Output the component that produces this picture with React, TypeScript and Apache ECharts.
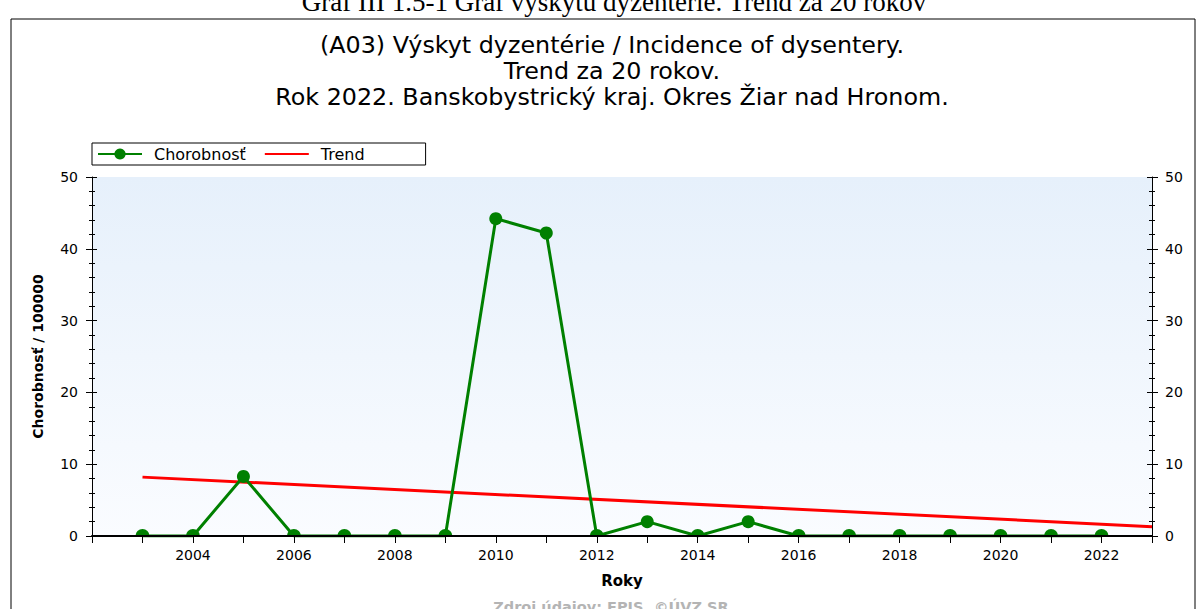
import React, { useEffect, useRef } from 'react';
import * as echarts from 'echarts';

const years = [2003, 2004, 2005, 2006, 2007, 2008, 2009, 2010, 2011, 2012, 2013, 2014, 2015, 2016, 2017, 2018, 2019, 2020, 2021, 2022];
const incidence = [0, 0, 8.3, 0, 0, 0, 0, 44.2, 42.2, 0, 2.0, 0, 2.0, 0, 0, 0, 0, 0, 0, 0];
const trendYears = [2003, 2023];
const trendValues = [8.2, 1.3];
const xMin = 2002;
const xMax = 2023;
const yMin = 0;
const yMax = 50;
const yInterval = 10;
const seriesNames = ['Chorobnosť', 'Trend'];
const captionText = 'Graf III 1.5-1 Graf výskytu dyzentérie. Trend za 20 rokov';
const titleLines = [
  '(A03) Výskyt dyzentérie / Incidence of dysentery.',
  'Trend za 20 rokov.',
  'Rok 2022. Banskobystrický kraj. Okres Žiar nad Hronom.',
];
const xAxisName = 'Roky';
const yAxisName = 'Chorobnosť / 100000';
const sourceText = 'Zdroj údajov: EPIS, ©ÚVZ SR';

const FONT = '"DejaVu Sans", Verdana, sans-serif';
const HALF = 'path://M0 10 A10 10 0 0 1 20 10 Z';

export default function App() {
  const ref = useRef<HTMLDivElement>(null);
  useEffect(() => {
    if (!ref.current) return;
    const chart = echarts.init(ref.current, null, { renderer: 'svg' });
    const yBase = {
      type: 'value',
      min: yMin,
      max: yMax,
      interval: yInterval,
      splitLine: { show: false },
      minorSplitLine: { show: false },
    };
    const option = {
      animation: false,
      backgroundColor: '#ffffff',
      textStyle: { fontFamily: FONT },
      grid: {
        left: 92,
        right: 51,
        top: 177,
        bottom: 73,
        show: true,
        borderWidth: 0,
        backgroundColor: new echarts.graphic.LinearGradient(0, 0, 0, 1, [
          { offset: 0, color: '#e6f0fb' },
          { offset: 1, color: '#fafcff' },
        ]),
      },
      legend: {
        data: [
          { name: seriesNames[0] },
          { name: seriesNames[1], itemStyle: { opacity: 0 } },
        ],
        left: 92,
        top: 143,
        orient: 'horizontal',
        borderColor: '#000',
        borderWidth: 1,
        borderRadius: 0,
        backgroundColor: '#ffffff',
        padding: [3, 61, 3, 5],
        itemWidth: 44,
        itemHeight: 14,
        itemGap: 18,
        textStyle: { fontSize: 16, color: '#000', fontFamily: FONT, padding: [0, 0, 0, 7] },
      },
      xAxis: [
        {
          type: 'value',
          min: xMin,
          max: xMax,
          interval: 1,
          position: 'bottom',
          z: 10,
          name: xAxisName,
          nameLocation: 'middle',
          nameGap: 37,
          nameTextStyle: { fontSize: 15, fontWeight: 'bold', color: '#000', fontFamily: FONT },
          axisLine: { show: true, lineStyle: { color: '#000', width: 2 } },
          axisTick: { show: true, length: 7, lineStyle: { color: '#000', width: 1 } },
          axisLabel: {
            color: '#000',
            fontSize: 14,
            margin: 12,
            fontFamily: FONT,
            formatter: (v: number) => (v % 2 === 0 && v > xMin ? String(v) : ''),
          },
          splitLine: { show: false },
        },
        {
          type: 'value',
          min: xMin,
          max: xMax,
          interval: 1,
          position: 'top',
          axisLine: { show: true, lineStyle: { color: '#000', width: 1 } },
          axisTick: { show: true, inside: true, length: 4, lineStyle: { color: '#000' } },
          axisLabel: { show: false },
          splitLine: { show: false },
        },
      ],
      yAxis: [
        {
          ...yBase,
          position: 'left',
          name: yAxisName,
          nameLocation: 'middle',
          nameGap: 47,
          nameTextStyle: { fontSize: 14, fontWeight: 'bold', color: '#000', fontFamily: FONT },
          axisLine: { show: true, lineStyle: { color: '#000', width: 1 } },
          axisTick: { show: true, length: 6, lineStyle: { color: '#000' } },
          minorTick: { show: true, splitNumber: 5, length: 3, lineStyle: { color: '#000' } },
          axisLabel: { color: '#000', fontSize: 14, margin: 14, fontFamily: FONT },
        },
        {
          ...yBase,
          position: 'right',
          axisLine: { show: true, lineStyle: { color: '#000', width: 1 } },
          axisTick: { show: true, length: 6, lineStyle: { color: '#000' } },
          minorTick: { show: true, splitNumber: 5, length: 3, lineStyle: { color: '#000' } },
          axisLabel: { color: '#000', fontSize: 14, margin: 13, fontFamily: FONT },
        },
        {
          ...yBase,
          position: 'left',
          axisLine: { show: false },
          axisTick: { show: true, inside: true, length: 5, lineStyle: { color: '#000' } },
          minorTick: { show: true, splitNumber: 5, length: 3, lineStyle: { color: '#000' } },
          axisLabel: { show: false },
        },
        {
          ...yBase,
          position: 'right',
          axisLine: { show: false },
          axisTick: { show: true, inside: true, length: 5, lineStyle: { color: '#000' } },
          minorTick: { show: true, splitNumber: 5, length: 3, lineStyle: { color: '#000' } },
          axisLabel: { show: false },
        },
      ],
      series: [
        {
          name: seriesNames[0],
          type: 'line',
          xAxisIndex: 0,
          yAxisIndex: 0,
          z: 3,
          clip: true,
          symbol: 'circle',
          symbolSize: 13,
          color: '#008000',
          itemStyle: { color: '#008000' },
          lineStyle: { color: '#008000', width: 3 },
          data: years.map((yr, i) => {
            const v = incidence[i];
            return v === 0
              ? { value: [yr, v], symbol: HALF, symbolSize: [14, 7], symbolOffset: [0, '-50%'] }
              : { value: [yr, v] };
          }),
        },
        {
          name: seriesNames[1],
          type: 'line',
          xAxisIndex: 0,
          yAxisIndex: 0,
          z: 2,
          symbol: 'none',
          color: '#ff0000',
          lineStyle: { color: '#ff0000', width: 3 },
          data: trendYears.map((yr, i) => [yr, trendValues[i]]),
        },
      ],
      graphic: [
        {
          type: 'rect',
          shape: { x: 11, y: 19, width: 1184, height: 620 },
          style: { fill: 'none', stroke: '#000', lineWidth: 1 },
          silent: true,
        },
        {
          type: 'text',
          x: 614,
          y: 15,
          style: {
            text: captionText,
            fontFamily: '"Liberation Serif", "Times New Roman", serif',
            fontSize: 27,
            fill: '#000',
            textAlign: 'center',
            textVerticalAlign: 'bottom',
          },
        },
        ...titleLines.map((t, i) => ({
          type: 'text',
          x: 612,
          y: 45 + i * 26,
          style: {
            text: t,
            fontFamily: FONT,
            fontSize: 23.8,
            fill: '#000',
            textAlign: 'center',
            textVerticalAlign: 'middle',
          },
        })),
        {
          type: 'text',
          x: 611,
          y: 599,
          style: {
            text: sourceText,
            fontFamily: FONT,
            fontSize: 14.5,
            fontWeight: 'bold',
            fill: '#b4b4b4',
            textAlign: 'center',
            textVerticalAlign: 'top',
          },
        },
      ],
    };
    chart.setOption(option as any);
    return () => chart.dispose();
  }, []);
  return (
    <div
      ref={ref}
      style={{ position: 'absolute', left: 0, top: 0, width: 1203, height: 609, background: '#fff' }}
    />
  );
}
